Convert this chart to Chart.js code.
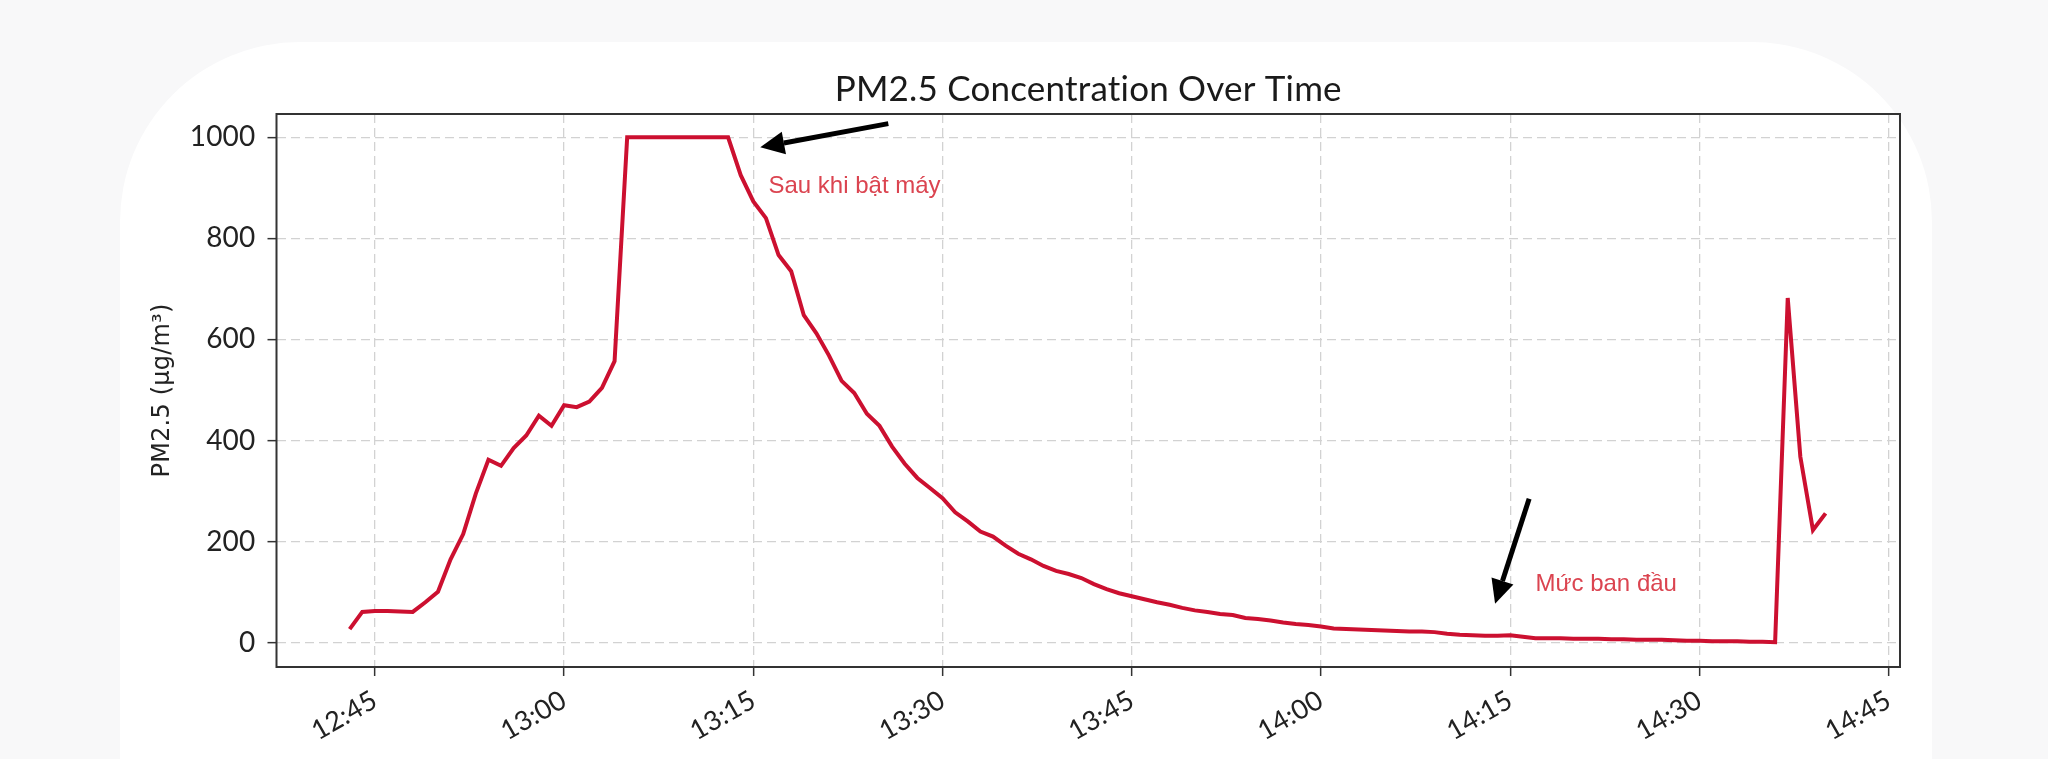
<!DOCTYPE html>
<html>
<head>
<meta charset="utf-8">
<title>PM2.5 Concentration Over Time</title>
<script src="https://cdn.jsdelivr.net/npm/chart.js@4.4.1/dist/chart.umd.min.js"></script>
<style>
  html, body { margin: 0; padding: 0; background: #f8f8f9; overflow: hidden; }
  #card { position: absolute; left: 120px; top: 42px; width: 1812px; height: 900px; background: #fff; border-radius: 180px; }
  #wrap { position: absolute; left: 0; top: 0; width: 2048px; height: 759px; }
</style>
</head>
<body>
<div id="card"></div>
<div id="wrap"><canvas id="canvas" width="2048" height="759"></canvas></div>
<script>
// first reading, then one PM2.5 reading per minute (µg/m³)
const firstReading = '12:43';
const pm25 = [
    27, 61, 63, 63, 62, 61, 80, 101, 165, 215,          // 12:43 - 12:52
    295, 362, 350, 385, 410, 449, 429, 470, 466, 477,   // 12:53 - 13:02
    504, 557, 1000, 1000, 1000, 1000, 1000, 1000, 1000, 1000, // 13:03 - 13:12
    1000, 925, 873, 840, 767, 735, 648, 612, 568, 518,  // 13:13 - 13:22
    494, 453, 429, 388, 354, 326, 306, 286, 258, 240,   // 13:23 - 13:32
    220, 210, 192, 176, 165, 152, 142, 136, 128, 116,   // 13:33 - 13:42
    106, 98, 92, 86, 80, 75, 69, 64, 61, 57,            // 13:43 - 13:52
    55, 49, 47, 44, 40, 37, 35, 32, 28, 27,             // 13:53 - 14:02
    26, 25, 24, 23, 22, 22, 21, 18, 16, 15,             // 14:03 - 14:12
    14, 14, 15, 12, 9, 9, 9, 8, 8, 8,                   // 14:13 - 14:22
    7, 7, 6, 6, 6, 5, 4, 4, 3, 3,                       // 14:23 - 14:32
    3, 2, 2, 1, 682, 368, 223, 256                      // 14:33 - 14:40
];

// axis ticks
const xTickLabels = ['12:45', '13:00', '13:15', '13:30', '13:45', '14:00', '14:15', '14:30', '14:45'];
const yTickValues = [0, 200, 400, 600, 800, 1000];

// annotations (time, value)
const noteTexts = ['Sau khi bật máy', 'Mức ban đầu'];
const noteTimes = ['13:16.2', '14:17.0'];
const noteValues = [890, 102];
const arrowTailTimes = ['13:25.7', '14:16.5'];
const arrowTailValues = [1027, 285];
const arrowTipTimes = ['13:15.55', '14:13.8'];
const arrowTipValues = [980, 77];

//"HH:MM" -> minutes after 12:00
function toMinutes(s) {
    let parts = s.split(':');
    return (parseInt(parts[0]) - 12) * 60 + parseFloat(parts[1]);
}
function toClock(m) {
    let h = 12 + Math.floor(m / 60);
    let mm = Math.round(m % 60);
    return h + ':' + (mm < 10 ? '0' + mm : mm);
}

const start = toMinutes(firstReading);
const points = pm25.map((v, i) => ({ x: start + i, y: v }));

//no "ti" ligature in the title, like the original
const noLigaturePlugin = {
    id: 'noLigature',
    beforeDraw(chart) {
        chart.ctx.letterSpacing = '0.2px';
    }
};

//frame around the plot + arrows and red notes
const notesPlugin = {
    id: 'notes',
    afterDraw(chart) {
        const { ctx, chartArea: a, scales: { x, y } } = chart;
        ctx.save();
        ctx.letterSpacing = '0px';
        ctx.strokeStyle = '#333';
        ctx.lineWidth = 2;
        ctx.strokeRect(a.left, a.top, a.right - a.left, a.bottom - a.top);

        noteTexts.forEach((txt, i) => {
            let x1 = x.getPixelForValue(toMinutes(arrowTailTimes[i]));
            let y1 = y.getPixelForValue(arrowTailValues[i]);
            let x2 = x.getPixelForValue(toMinutes(arrowTipTimes[i]));
            let y2 = y.getPixelForValue(arrowTipValues[i]);
            let ang = Math.atan2(y2 - y1, x2 - x1);
            let headLen = 24, headHalf = 11.5;
            let bx = x2 - headLen * Math.cos(ang), by = y2 - headLen * Math.sin(ang);

            ctx.strokeStyle = '#000';
            ctx.fillStyle = '#000';
            ctx.lineWidth = 5;
            ctx.beginPath();
            ctx.moveTo(x1, y1);
            ctx.lineTo(bx, by);
            ctx.stroke();
            ctx.beginPath();
            ctx.moveTo(x2, y2);
            ctx.lineTo(bx + headHalf * Math.sin(ang), by - headHalf * Math.cos(ang));
            ctx.lineTo(bx - headHalf * Math.sin(ang), by + headHalf * Math.cos(ang));
            ctx.closePath();
            ctx.fill();

            ctx.fillStyle = '#db4450';
            ctx.font = '24px "Liberation Sans", Arial, sans-serif';
            ctx.textAlign = 'left';
            ctx.textBaseline = 'alphabetic';
            ctx.fillText(txt, x.getPixelForValue(toMinutes(noteTimes[i])), y.getPixelForValue(noteValues[i]));
        });
        ctx.restore();
    }
};

const ctx = document.getElementById('canvas').getContext('2d');
const chart = new Chart(ctx, {
    type: 'line',
    data: {
        datasets: [{
            label: 'PM2.5',
            data: points,
            borderColor: '#cc1030',
            backgroundColor: '#cc1030',
            borderWidth: 4,
            pointRadius: 0,
            tension: 0,
            fill: false
        }]
    },
    options: {
        responsive: false,
        animation: false,
        devicePixelRatio: 1,
        layout: { padding: { left: 148.6, right: 148, top: 0, bottom: 0 } },
        plugins: {
            legend: { display: false },
            tooltip: { enabled: false },
            title: {
                display: true,
                text: 'PM2.5 Concentration Over Time',
                fullSize: false,
                color: '#1a1a1a',
                font: { family: 'Lato', size: 35, weight: 'normal' },
                padding: { top: 69, bottom: 3 }
            }
        },
        scales: {
            x: {
                type: 'linear',
                min: 37.2,
                max: 165.9,
                afterBuildTicks: (scale) => {
                    scale.ticks = xTickLabels.map(l => ({ value: toMinutes(l) }));
                },
                afterFit: (scale) => { scale.height = 92; },
                grid: {
                    color: '#d2d2d2',
                    lineWidth: 1.3,
                    tickColor: '#333',
                    tickLength: 9,
                    tickWidth: 1.5
                },
                border: { display: false, dash: [9, 5] },
                ticks: {
                    autoSkip: false,
                    minRotation: 30,
                    maxRotation: 30,
                    padding: 8,
                    color: '#222',
                    font: { family: 'Lato', size: 27 },
                    callback: (v) => toClock(v)
                }
            },
            y: {
                min: -48,
                max: 1046,
                afterBuildTicks: (scale) => {
                    scale.ticks = yTickValues.map(v => ({ value: v }));
                },
                afterFit: (scale) => { scale.width = 276.5 - 148.6; },
                grid: {
                    color: '#d2d2d2',
                    lineWidth: 1.3,
                    tickColor: '#333',
                    tickLength: 9,
                    tickWidth: 1.5
                },
                border: { display: false, dash: [9, 5] },
                ticks: {
                    padding: 12,
                    color: '#222',
                    font: { family: 'Lato', size: 28 },
                    callback: (v) => String(v)
                },
                title: {
                    display: true,
                    text: 'PM2.5 (µg/m³)',
                    color: '#222',
                    font: { family: '"DejaVu Sans"', size: 24 },
                    padding: 0
                }
            }
        }
    },
    plugins: [noLigaturePlugin, notesPlugin]
});
</script>
</body>
</html>
